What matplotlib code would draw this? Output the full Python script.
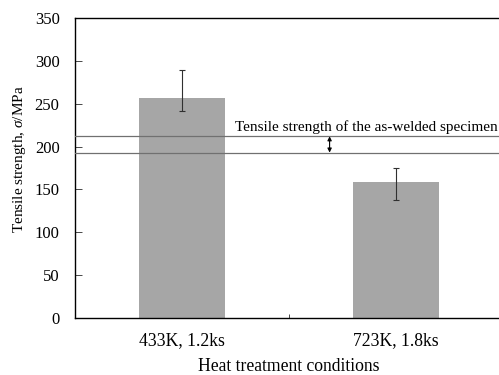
import numpy as np
import matplotlib.pyplot as plt

plt.rcParams['font.family'] = ['Liberation Serif', 'DejaVu Serif']
plt.rcParams['mathtext.fontset'] = 'custom'
plt.rcParams['mathtext.it'] = 'Liberation Serif:italic'

# data
conditions = ['433K, 1.2ks', '723K, 1.8ks']
strength = [257, 159]
err_low = [16, 21]
err_high = [32, 16]
welded_band = [193, 212]  # range for the as-welded specimen

fig = plt.figure(figsize=(4.99, 3.75), dpi=100)
ax = fig.add_axes([0.150, 0.152, 0.858, 0.80])

x = np.arange(len(conditions))
ax.bar(x, strength, width=0.4, color='#a6a6a6', zorder=2)
ax.errorbar(x, strength, yerr=[err_low, err_high], fmt='none',
            ecolor='#303030', elinewidth=0.8, capsize=2.5, capthick=0.8, zorder=3)

for v in welded_band:
    ax.axhline(v, color='#707070', lw=0.9, zorder=4)

ax.annotate('', xy=(0.69, welded_band[0]), xytext=(0.69, welded_band[1]),
            arrowprops=dict(arrowstyle='<|-|>', color='black', lw=0.8,
                            mutation_scale=6, shrinkA=0, shrinkB=0))
ax.text(0.248, 215, 'Tensile strength of the as-welded specimen',
        fontsize=11, va='bottom', ha='left')

ax.set_xlim(-0.5, 1.5)
ax.set_ylim(0, 350)
ax.set_yticks(np.arange(0, 351, 50))
ax.set_xticks([0.5])
ax.set_xticklabels([''])
ax.tick_params(axis='x', direction='in', length=3, width=0.5)
ax.tick_params(axis='y', direction='in', length=5, width=0.5, labelsize=12, pad=11)
for i, c in enumerate(conditions):
    ax.text(i, -31.5, c, ha='center', va='baseline', fontsize=12.7)

ax.set_xlabel('Heat treatment conditions', fontsize=12.7, va='baseline')
ax.xaxis.set_label_coords(0.5, -0.177)
ax.set_ylabel(r'Tensile strength, $\sigma$/MPa', fontsize=11, va='center')
ax.yaxis.set_label_coords(-0.1285, 0.53)

for s in ax.spines.values():
    s.set_linewidth(1.0)

fig.savefig('out.png', dpi=100)
